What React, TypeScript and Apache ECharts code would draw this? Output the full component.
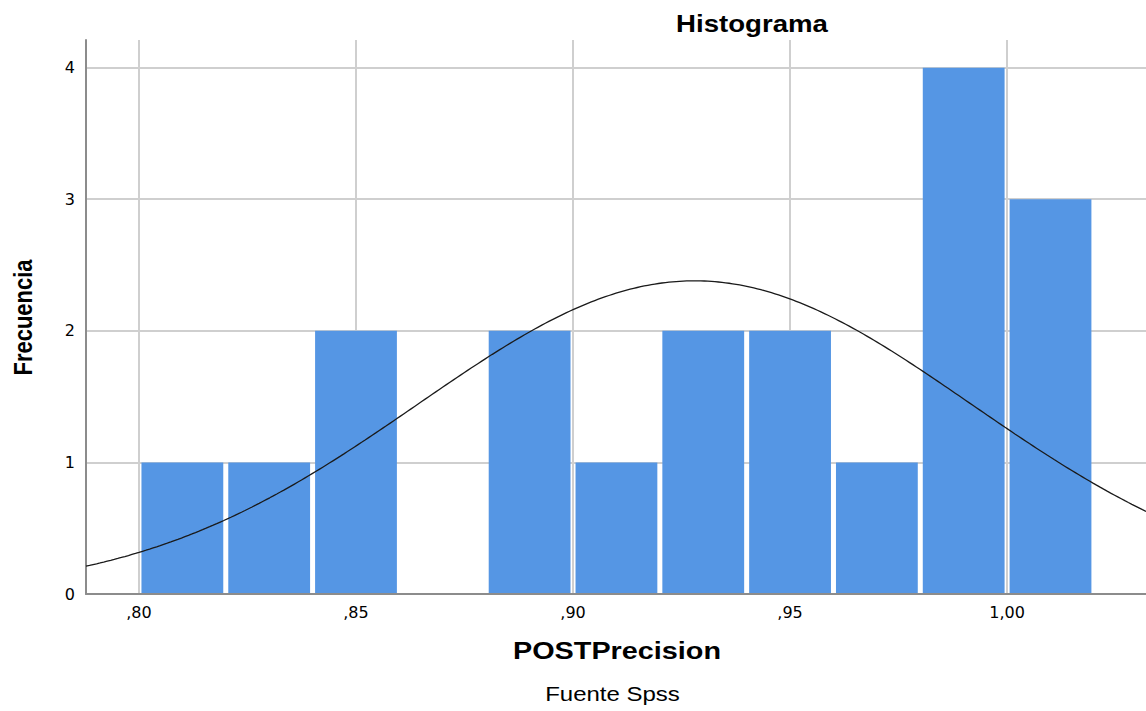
import React, { useEffect, useRef } from "react";
import * as echarts from "echarts";

// Histogram bins (lower edge) and frequencies
const binStarts = [0.8, 0.82, 0.84, 0.86, 0.88, 0.9, 0.92, 0.94, 0.96, 0.98, 1.0];
const counts = [1, 1, 2, 0, 2, 1, 2, 2, 1, 4, 3];
const binWidth = 0.02;

// Fitted normal curve parameters
const mean = 0.928;
const stdDev = 0.0637;
const nTotal = 19;

const xTicks = [0.8, 0.85, 0.9, 0.95, 1.0];
const yTicks = [0, 1, 2, 3, 4];

const xMin = 0.7878;
const xMax = 1.032;
const yMax = 4.21;

const BAR_COLOR = "#5596e4";

function fmtX(v: number): string {
  let s = v.toFixed(2).replace(".", ",");
  if (s.startsWith("0,")) s = s.slice(1);
  return s;
}

export default function App() {
  const ref = useRef<HTMLDivElement>(null);
  useEffect(() => {
    if (!ref.current) return;
    const chart = echarts.init(ref.current, null, { renderer: "svg" });

    const barData = binStarts.map((s, i) => [s, s + binWidth, counts[i]]);
    const curve: number[][] = [];
    const steps = 300;
    for (let i = 0; i <= steps; i++) {
      const x = xMin + ((xMax - xMin) * i) / steps;
      const z = (x - mean) / stdDev;
      const y = (nTotal * binWidth) / (stdDev * Math.sqrt(2 * Math.PI)) * Math.exp(-0.5 * z * z);
      curve.push([x, y]);
    }

    const labelFont = { fontFamily: "DejaVu Sans", fontSize: 16, color: "#000" };

    chart.setOption({
      animation: false,
      backgroundColor: "#fff",
      grid: { left: 86, right: 0, top: 40, bottom: 117, outerBoundsMode: "none" } as any,
      xAxis: {
        type: "value",
        min: xMin,
        max: xMax,
        axisLine: { show: true, lineStyle: { color: "#8c8c8c", width: 2 } },
        axisTick: { show: false, customValues: xTicks },
        axisLabel: { customValues: xTicks, formatter: (v: number) => fmtX(v), margin: 10, ...labelFont },
        splitLine: { show: true, lineStyle: { color: "#cfcfcf", width: 2 } },
      },
      yAxis: {
        type: "value",
        min: 0,
        max: yMax,
        axisLine: { show: true, lineStyle: { color: "#8c8c8c", width: 2 } },
        axisTick: { show: false, customValues: yTicks },
        axisLabel: { customValues: yTicks, margin: 11, ...labelFont },
        splitLine: { show: true, lineStyle: { color: "#cfcfcf", width: 2 } },
      },
      series: [
        {
          type: "custom",
          data: barData,
          encode: { x: [0, 1], y: 2 },
          z: 2,
          renderItem: (params: any, api: any) => {
            const x0 = api.value(0);
            const x1 = api.value(1);
            const c = api.value(2);
            if (!c) return null;
            const p0 = api.coord([x0, c]);
            const p1 = api.coord([x1, 0]);
            return {
              type: "rect",
              shape: { x: p0[0] + 2.5, y: p0[1], width: p1[0] - p0[0] - 5, height: p1[1] - p0[1] - 1 },
              style: { fill: BAR_COLOR },
            };
          },
        },
        {
          type: "line",
          data: curve,
          showSymbol: false,
          z: 3,
          lineStyle: { color: "#1a1a1a", width: 1.3 },
          silent: true,
        },
      ],
      graphic: [
        {
          type: "text",
          x: 752,
          y: 23.5,
          scaleX: 1.2,
          style: {
            text: "Histograma",
            font: "bold 23px 'Liberation Sans', Arial, sans-serif",
            fill: "#000",
            align: "center",
            verticalAlign: "middle",
          },
        },
        {
          type: "text",
          x: 617,
          y: 651,
          scaleX: 1.2,
          style: {
            text: "POSTPrecision",
            font: "bold 24px 'Liberation Sans', Arial, sans-serif",
            fill: "#000",
            align: "center",
            verticalAlign: "middle",
          },
        },
        {
          type: "text",
          x: 612.5,
          y: 694,
          scaleX: 1.2,
          style: {
            text: "Fuente Spss",
            font: "20px 'Liberation Sans', Arial, sans-serif",
            fill: "#000",
            align: "center",
            verticalAlign: "middle",
          },
        },
        {
          type: "text",
          x: 23,
          y: 317.5,
          rotation: Math.PI / 2,
          scaleY: 1.2,
          style: {
            text: "Frecuencia",
            font: "bold 22px 'Liberation Sans', Arial, sans-serif",
            fill: "#000",
            align: "center",
            verticalAlign: "middle",
          },
        },
      ],
    });
    return () => chart.dispose();
  }, []);
  return (
    <div
      ref={ref}
      style={{ position: "fixed", left: 0, top: 0, width: 1146, height: 711, background: "#fff" }}
    />
  );
}
